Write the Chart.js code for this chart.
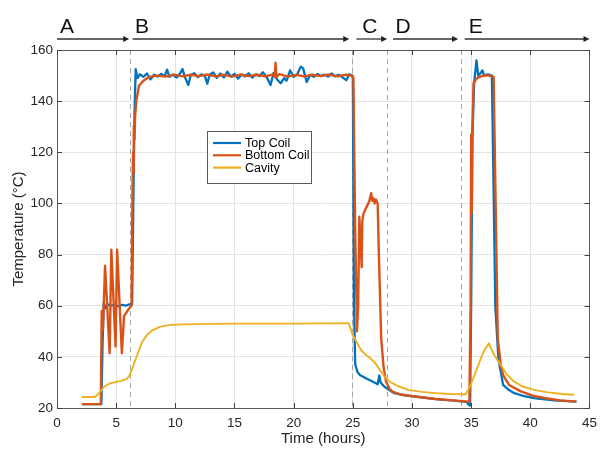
<!DOCTYPE html>
<html><head><meta charset="utf-8">
<script src="https://cdn.jsdelivr.net/npm/chart.js@4.4.1/dist/chart.umd.min.js"></script>
<style>html,body{margin:0;padding:0;background:#fff;}canvas{display:block;}</style>
</head><body>
<canvas id="c" width="604" height="451"></canvas>
<script>
// ---------- data (hours, °C) ----------
const topCoilX = [2.1,3.75,3.85,3.95,4.1,4.3,4.6,4.9,5.2,5.5,5.8,6.1,6.35,6.45,6.55,6.65,6.8,
  7.0,7.3,7.6,7.9,8.2,8.5,8.8,9.1,9.3,9.5,9.8,10.1,10.4,10.6,10.8,11.1,11.3,11.6,11.9,12.2,12.5,12.7,12.9,13.2,13.5,13.8,14.1,14.4,14.7,15.0,15.3,15.6,15.9,16.2,16.5,16.8,17.1,17.4,17.7,18.05,18.3,18.6,18.9,19.2,19.4,19.7,20.0,20.3,20.6,20.8,21.1,21.4,21.7,22.0,22.3,22.6,22.9,23.2,23.5,23.8,24.1,24.45,24.7,24.9,
  25.0,25.1,25.2,25.4,25.6,26.1,26.96,27.1,27.24,27.35,27.65,28.5,29.5,30.6,32.0,33.5,34.6,34.8,34.9,
  35.0,35.1,35.25,35.45,35.6,35.8,35.95,36.1,36.4,36.75,36.85,37.04,37.3,37.7,38.2,38.65,39.5,40.3,42.0,43.9];
const topCoilY = [21.5,21.5,45,61,59,60.5,60,60.5,59.8,60.3,60,60.5,60.5,100,135,152.5,149,
  150.5,149.5,150.8,148.5,150.3,149.6,150.6,149.8,152.3,149.5,150.4,149.2,150.8,152.6,149.5,146.3,150.2,150.9,149.4,150.5,149.8,146.8,150.3,151.2,149.1,150.8,149.3,151.5,149.6,150.7,148.8,150.4,149.7,150.9,149.2,150.5,149.8,151.3,149.5,146.3,151.0,148.5,147.0,149.0,148.0,152.0,149.5,150.5,153.5,152.8,147.5,150.3,149.5,150.6,149.8,150.4,149.6,150.8,149.7,150.3,149.4,148.2,150.5,150.2,
  149,60,37,34,32.9,31.6,29.7,29.3,32.7,30,28.4,25.8,24.8,24.3,23.5,22.9,22.4,21.3,21,
  60,124.9,147,155.9,150,151,152,150,150.5,150,120,60,39.4,29,27,25.8,24.6,23.9,23,22.5];

const bottomCoilX = [2.1,3.7,3.78,3.88,4.06,4.45,4.59,4.95,5.08,5.48,5.67,6.09,6.3,6.38,6.43,6.47,6.5,6.55,6.6,6.7,6.93,
  7.3,7.8,8.5,9.2,9.9,10.6,11.3,12.0,12.7,13.4,14.1,14.8,15.5,16.2,16.9,17.6,18.2,18.4,18.47,18.55,18.8,19.5,20.2,20.9,21.6,22.3,23.0,23.7,24.4,24.95,
  25.05,25.2,25.35,25.45,25.55,25.65,25.75,25.8,25.9,26.0,26.1,26.2,26.3,26.4,26.55,26.65,26.75,26.85,26.95,27.1,27.2,27.4,27.6,27.8,28.1,28.4,29.0,30.6,32.0,33.5,34.7,34.85,
  34.95,35.0,35.05,35.1,35.2,35.5,36.0,36.5,36.9,37.0,37.25,37.5,37.7,38.2,39.2,40.2,41.2,42.5,43.9];
const bottomCoilY = [21.5,21.5,58,50.5,75.6,41.4,81.9,44,81.9,41.4,56,58.9,60.1,105,120,112,130,125,134,140,146,
  148,149.5,150,149.6,150.4,149.7,150.3,149.8,150.4,149.7,150.3,149.6,150.4,149.8,150.3,149.7,150.4,149.5,155,149.5,150.6,149.6,150.3,149.7,150.3,149.8,150.4,149.7,150.3,150,
  149,90,50,60,94.8,85,75,93,96,97,98,99,100,101,104,101,102,100,101.5,100,80,47,36,30.4,27.5,26.3,25.3,24.3,23.5,23,22.5,22.3,
  60,127,96.5,128,147,149,150,150,149.5,120,47,37,32.9,29,26.5,24.8,23.9,23,22.5];

const cavityX = [2.1,3.2,3.5,4.0,4.4,4.84,5.4,5.9,6.1,6.37,6.8,7.2,7.6,8.04,8.7,9.43,10.5,11.9,15,20,24.65,
  25.0,25.3,25.7,26.1,26.5,26.9,27.2,27.6,28.07,28.8,29.7,30.8,32.0,33.2,34.3,34.55,
  34.9,35.3,35.7,36.1,36.5,36.8,37.1,37.5,38.0,38.6,39.3,40.3,41.5,42.7,43.7];
const cavityY = [24.3,24.3,25.5,28.4,29.5,30,30.6,31.4,32.5,35.5,41,45.9,48.5,50.4,51.7,52.4,52.7,52.8,53,53,53.2,
  48.5,46,42.6,40.8,39.4,37.5,35.5,32.8,30.4,28.6,27.1,26.3,25.8,25.5,25.4,25.4,
  28.5,33,38,42.5,45.3,42,39.6,36.8,33.2,30.4,28.5,27.1,26.1,25.5,25.2];

const seriesNames = ['Top Coil','Bottom Coil','Cavity'];
const xTicks = [0,5,10,15,20,25,30,35,40,45];
const yTicks = [20,40,60,80,100,120,140,160];
const phaseLabels = ['A','B','C','D','E'];
const phaseStart = [0, 6.4, 25.3, 28.4, 34.45];
const phaseEnd   = [6.1, 24.7, 27.9, 33.9, 45];
const labelX     = [0.25, 6.6, 25.8, 28.6, 34.8];
const dividers = [6.2, 24.93, 27.85, 34.1];

// ---------- styling ----------
const FONT = "'Liberation Sans', Arial, Helvetica, sans-serif";
const colors = ['#0072BD','#D95319','#EDB120'];
const pts = (xs, ys) => xs.map((v,i)=>({x:v, y:ys[i]}));

const deco = {
  id:'deco',
  beforeDatasetsDraw(chart){
    const {ctx, chartArea:a, scales:{x}} = chart;
    ctx.save();
    ctx.strokeStyle = '#a6a6a6'; ctx.lineWidth = 1; ctx.setLineDash([5,4]);
    dividers.forEach(v=>{
      const px = Math.round(x.getPixelForValue(v)) + 0.5;
      ctx.beginPath(); ctx.moveTo(px, a.top); ctx.lineTo(px, a.bottom); ctx.stroke();
    });
    ctx.restore();
  },
  afterDraw(chart){
    const {ctx, chartArea:a, scales:{x,y}} = chart;
    ctx.save();
    // box
    ctx.strokeStyle = '#5a5a5a'; ctx.lineWidth = 1;
    ctx.strokeRect(Math.round(a.left)+0.5, Math.round(a.top)+0.5, Math.round(a.right-a.left), Math.round(a.bottom-a.top));
    // inward ticks
    ctx.strokeStyle = '#404040';
    ctx.beginPath();
    xTicks.forEach(v=>{
      const px = Math.round(x.getPixelForValue(v))+0.5;
      ctx.moveTo(px, a.bottom); ctx.lineTo(px, a.bottom-5);
      ctx.moveTo(px, a.top); ctx.lineTo(px, a.top+5);
    });
    yTicks.forEach(v=>{
      const py = Math.round(y.getPixelForValue(v))+0.5;
      ctx.moveTo(a.left, py); ctx.lineTo(a.left+5, py);
      ctx.moveTo(a.right, py); ctx.lineTo(a.right-5, py);
    });
    ctx.stroke();
    // phase arrows
    const ay = 39;
    ctx.strokeStyle = '#333'; ctx.fillStyle = '#222'; ctx.lineWidth = 1.3;
    phaseLabels.forEach((lab,i)=>{
      const x0 = x.getPixelForValue(phaseStart[i]);
      const x1 = Math.min(x.getPixelForValue(phaseEnd[i]), a.right+1);
      ctx.beginPath(); ctx.moveTo(x0, ay); ctx.lineTo(x1-4, ay); ctx.stroke();
      ctx.beginPath(); ctx.moveTo(x1, ay); ctx.lineTo(x1-6, ay-3); ctx.lineTo(x1-6, ay+3); ctx.closePath(); ctx.fill();
      ctx.font = '21px ' + FONT; ctx.textAlign = 'left'; ctx.textBaseline = 'alphabetic';
      ctx.fillStyle = '#111';
      ctx.fillText(lab, x.getPixelForValue(labelX[i]), 33);
      ctx.fillStyle = '#222';
    });
    // legend
    const lx = 207, ly = 131, lw = 104, lh = 52;
    ctx.fillStyle = '#fff'; ctx.fillRect(lx, ly, lw, lh);
    ctx.strokeStyle = '#5a5a5a'; ctx.lineWidth = 1;
    ctx.strokeRect(lx+0.5, ly+0.5, lw, lh);
    ctx.font = '12.5px ' + FONT; ctx.textBaseline = 'middle'; ctx.textAlign = 'left';
    seriesNames.forEach((n,i)=>{
      const ry = 143 + i*12.3;
      ctx.strokeStyle = colors[i]; ctx.lineWidth = 2.2;
      ctx.beginPath(); ctx.moveTo(213, ry); ctx.lineTo(241, ry); ctx.stroke();
      ctx.fillStyle = '#000'; ctx.fillText(n, 245, ry+0.5);
    });
    ctx.restore();
  }
};

new Chart(document.getElementById('c'), {
  type: 'scatter',
  data: {
    datasets: [
      {label: seriesNames[0], data: pts(topCoilX, topCoilY), borderColor: colors[0], borderWidth: 2.3, order: 3},
      {label: seriesNames[1], data: pts(bottomCoilX, bottomCoilY), borderColor: colors[1], borderWidth: 2.4, order: 2},
      {label: seriesNames[2], data: pts(cavityX, cavityY), borderColor: colors[2], borderWidth: 1.9, order: 1}
    ].map(d=>Object.assign(d, {showLine:true, pointRadius:0, tension:0, fill:false, borderJoinStyle:'round'}))
  },
  options: {
    responsive: false, animation: false,
    layout: {padding: {left: 0, right: 8, top: 50, bottom: 0}},
    plugins: {legend: {display:false}, tooltip: {enabled:false}},
    scales: {
      x: {
        type: 'linear', min: 0, max: 45,
        afterBuildTicks: s => { s.ticks = xTicks.map(v=>({value:v})); },
        afterFit: s => { s.height = 43; },
        grid: {color: '#e4e4e4', drawTicks: false},
        border: {display: false},
        ticks: {padding: 7, color: '#262626', font: {family: FONT, size: 13.5}, maxRotation: 0},
        title: {display: true, text: 'Time (hours)', color: '#262626', font: {family: FONT, size: 15}, padding: {top: 0, bottom: 3}}
      },
      y: {
        type: 'linear', min: 20, max: 160,
        afterBuildTicks: s => { s.ticks = yTicks.map(v=>({value:v})); },
        afterFit: s => { s.width = 57; },
        grid: {color: '#e4e4e4', drawTicks: false},
        border: {display: false},
        ticks: {padding: 4, color: '#262626', font: {family: FONT, size: 13.5}},
        title: {display: true, text: 'Temperature (°C)', color: '#262626', font: {family: FONT, size: 15}, padding: {top: 10, bottom: 0}}
      }
    }
  },
  plugins: [deco]
});
</script>
</body></html>
